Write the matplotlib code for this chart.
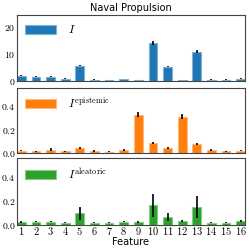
import numpy as np
import matplotlib
matplotlib.use('Agg')
import matplotlib.pyplot as plt

plt.rcParams['mathtext.fontset'] = 'cm'
plt.rcParams['font.family'] = 'DejaVu Sans'

# data
features = list(range(1, 17))
imp_total = [2.0, 1.5, 1.6, 0.9, 5.7, 0.5, 0.4, 0.7, 0.25, 14.1, 5.3, 0.3, 10.9, 0.5, 0.5, 0.9]
imp_total_err = [0.2, 0.15, 0.15, 0.1, 0.3, 0.1, 0.1, 0.1, 0.05, 0.8, 0.3, 0.05, 0.6, 0.1, 0.1, 0.1]
imp_epi = [0.02, 0.017, 0.03, 0.017, 0.043, 0.018, 0.012, 0.026, 0.326, 0.086, 0.047, 0.31, 0.08, 0.025, 0.014, 0.02]
imp_epi_err = [0.004, 0.004, 0.01, 0.004, 0.005, 0.006, 0.004, 0.008, 0.022, 0.007, 0.008, 0.022, 0.007, 0.008, 0.004, 0.004]
imp_ale = [0.02, 0.026, 0.026, 0.017, 0.094, 0.014, 0.017, 0.026, 0.023, 0.163, 0.066, 0.028, 0.148, 0.017, 0.017, 0.028]
imp_ale_err = [0.008, 0.008, 0.008, 0.005, 0.057, 0.004, 0.005, 0.008, 0.007, 0.097, 0.033, 0.008, 0.09, 0.004, 0.004, 0.01]

colors = ['#1f77b4', '#ff7f0e', '#2ca02c']
edges = ['#7fb0d6', '#ffb97a', '#85cc85']
labels = [r'$I$', r'$I^{\mathrm{epistemic}}$', r'$I^{\mathrm{aleatoric}}$']
vals = [imp_total, imp_epi, imp_ale]
errs = [imp_total_err, imp_epi_err, imp_ale_err]
ylims = [(0, 24.5), (0, 0.555), (0, 0.565)]
yticks = [[0, 10, 20], [0.0, 0.2, 0.4], [0.0, 0.2, 0.4]]
yticklabels = [[r'$0$', r'$10$', r'$20$'],
               [r'$0.0$', r'$0.2$', r'$0.4$'],
               [r'$0.0$', r'$0.2$', r'$0.4$']]

fig = plt.figure(figsize=(2.49, 2.49), dpi=100)
boxes = [[0.068, 0.675, 0.916, 0.265],
         [0.068, 0.385, 0.916, 0.262],
         [0.068, 0.098, 0.916, 0.268]]

for i in range(3):
    ax = fig.add_axes(boxes[i])
    ax.bar(features, vals[i], width=0.6, color=colors[i], edgecolor=edges[i],
           linewidth=0.8, label=labels[i])
    ax.errorbar(features, vals[i], yerr=errs[i], fmt='none', ecolor='black',
                elinewidth=1.2, capsize=0)
    ax.set_xlim(0.7, 16.3)
    ax.set_ylim(*ylims[i])
    ax.set_yticks(yticks[i])
    ax.set_yticklabels(yticklabels[i], fontsize=7)
    ax.tick_params(axis='y', length=0, pad=1)
    ax.tick_params(axis='x', length=0, pad=0)
    for s in ax.spines.values():
        s.set_color('#444444')
        s.set_linewidth(0.8)
    ax.legend(loc='upper left', frameon=False, fontsize=8.5, handlelength=2.6,
              handleheight=0.8, borderaxespad=0.3, handletextpad=1.0)
    if i == 2:
        ax.set_xticks(features)
        ax.set_xticklabels([r'$%d$' % f for f in features], fontsize=7.5)
        ax.set_xlabel('Feature', fontsize=7, labelpad=0)
    else:
        ax.set_xticks([])
    if i == 0:
        ax.set_title('Naval Propulsion', fontsize=7, pad=3)

fig.savefig('out.png', dpi=100)
